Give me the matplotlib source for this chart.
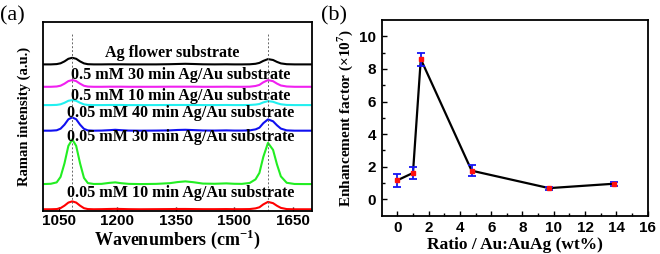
#!/usr/bin/env python
# -*- coding: utf-8 -*-

from matplotlib import pyplot as plt

# ---- panel (a): stacked Raman spectra -------------------------------------
wavenumbers = [1010, 1030, 1045, 1055, 1065, 1075, 1085, 1095, 1105, 1115,
               1125, 1140, 1160, 1180, 1195, 1210, 1230, 1260, 1300, 1335,
               1355, 1375, 1395, 1420, 1450, 1480, 1500, 1520, 1540, 1555,
               1565, 1575, 1587, 1600, 1610, 1620, 1635, 1655, 1680, 1700]

spec_010_05 = [0.1, 0.1, 0.3, 1.3, 3.7, 6.8, 8.0, 6.8, 3.7, 1.2,
               0.3, 0.1, 0.2, 0.4, 0.5, 0.4, 0.2, 0.1, 0.2, 0.3,
               0.4, 0.4, 0.3, 0.2, 0.2, 0.3, 0.2, 0.2, 0.3, 1.0,
               2.1, 5.0, 7.5, 6.2, 3.6, 1.5, 0.3, 0.1, 0.1, 0.1]
spec_030_05 = [0.3, 0.6, 2.0, 7.5, 21.0, 38.5, 45.0, 38.5, 21.0, 6.5,
               1.3, 0.4, 0.5, 1.5, 2.0, 1.2, 0.5, 0.3, 0.5, 1.2,
               2.3, 3.0, 2.2, 0.8, 0.6, 1.0, 0.6, 0.5, 1.4, 5.0,
               11.5, 27.5, 41.5, 34.5, 20.0, 8.0, 1.6, 0.4, 0.3, 0.3]
spec_040_05 = [0.1, 0.1, 0.5, 2.1, 6.1, 11.5, 13.4, 11.5, 6.1, 1.9,
               0.4, 0.1, 0.2, 0.6, 1.0, 0.6, 0.2, 0.1, 0.2, 0.4,
               0.8, 1.0, 0.7, 0.3, 0.2, 0.4, 0.2, 0.2, 0.4, 1.4,
               3.1, 7.6, 11.4, 9.5, 5.5, 2.2, 0.4, 0.1, 0.1, 0.1]
spec_010_5 = [0.0, 0.0, 0.2, 0.8, 2.3, 4.3, 5.0, 4.3, 2.3, 0.7,
              0.15, 0.0, 0.0, 0.1, 0.1, 0.1, 0.0, 0.0, 0.0, 0.1,
              0.1, 0.1, 0.1, 0.0, 0.0, 0.1, 0.0, 0.0, 0.1, 0.5,
              1.1, 2.7, 4.0, 3.3, 1.9, 0.8, 0.15, 0.0, 0.0, 0.0]
spec_030_5 = [0.0, 0.0, 0.3, 1.1, 3.1, 5.7, 6.7, 5.7, 3.1, 1.0,
              0.2, 0.0, 0.0, 0.1, 0.1, 0.1, 0.0, 0.0, 0.0, 0.1,
              0.1, 0.1, 0.1, 0.0, 0.0, 0.1, 0.0, 0.0, 0.1, 0.8,
              1.9, 4.5, 6.7, 5.6, 3.2, 1.3, 0.3, 0.0, 0.0, 0.0]
spec_ag = [0.0, 0.0, 0.3, 1.1, 3.0, 5.6, 6.6, 5.6, 3.0, 1.0,
           0.2, 0.0, 0.0, 0.1, 0.1, 0.1, 0.0, 0.0, 0.0, 0.2,
           0.4, 0.6, 0.4, 0.1, 0.0, 0.1, 0.0, 0.0, 0.1, 0.6,
           1.5, 3.5, 5.3, 4.4, 2.5, 1.0, 0.2, 0.0, 0.0, 0.0]

spectra = [spec_010_05, spec_030_05, spec_040_05, spec_010_5, spec_030_5, spec_ag]
spectra_names = ['0.05 mM 10 min Ag/Au substrate', '0.05 mM 30 min Ag/Au substrate',
                 '0.05 mM 40 min Ag/Au substrate', '0.5 mM 10 min Ag/Au substrate',
                 '0.5 mM 30 min Ag/Au substrate', 'Ag flower substrate']
band_positions = [1085, 1587]

# stacking offsets / label spots (layout only)
offsets = [1.7, 26.7, 80.3, 106.0, 124.3, 146.7]
label_y = [18, 74, 98, 115.3, 136, 158.3]
label_x = [1362, 1362, 1362, 1362, 1362, 1342]
colours = ['#FF0000', '#22EE22', '#1010F0', '#22F0F0', '#F020F0', '#000000']

# ---- panel (b): enhancement factor ----------------------------------------
ratio = [0, 1, 1.5, 4.75, 9.7, 13.85]
ef = [1.17, 1.62, 8.6, 1.76, 0.69, 0.96]
ef_err = [0.4, 0.37, 0.4, 0.35, 0.1, 0.12]

plt.rcParams['mathtext.fontset'] = 'custom'
plt.rcParams['mathtext.rm'] = 'Liberation Serif'
plt.rcParams['mathtext.bf'] = 'Liberation Serif:bold'

serif = {'family': 'Liberation Serif', 'weight': 'bold'}
tick_font = {'family': 'Liberation Sans', 'weight': 'bold', 'size': 11}

fig = plt.figure(figsize=(6.6, 2.54), dpi=100)
ax1 = fig.add_axes([0.0652, 0.169, 0.4076, 0.744])
ax2 = fig.add_axes([0.5783, 0.1508, 0.403, 0.7705])

for spec, off, c in zip(spectra, offsets, colours):
    ax1.plot(wavenumbers, [v + off for v in spec], color=c, lw=1.5)
for name, x, y in zip(spectra_names, label_x, label_y):
    ax1.text(x, y, name, ha='center', va='center', fontsize=11.6, **serif)
ax1.vlines(band_positions, 0, 178, colors='#666666', linestyles=(0, (2, 2)), lw=0.7)

ax1.set_xlim(1010, 1700)
ax1.set_ylim(0, 189)
ax1.set_xticks([1050, 1200, 1350, 1500, 1650])
ax1.set_yticks([])
ax1.tick_params(axis='x', direction='in', length=3, width=1, pad=2)
for lbl in ax1.get_xticklabels():
    lbl.set(**tick_font)
ax1.set_xlabel('Wavenumbers (cm$^{\\mathbf{-1}}$)', fontsize=13, labelpad=0, **serif)
ax1.set_ylabel('Raman intensity (a.u.)', fontsize=10.5, labelpad=9, **serif)
for s in ax1.spines.values():
    s.set_linewidth(1.3)

ax2.plot(ratio, ef, color='black', lw=1.6, zorder=2)
ax2.errorbar(ratio, ef, yerr=ef_err, fmt='none', ecolor='#1515F5',
             elinewidth=1.3, capsize=3, capthick=1.3, zorder=3)
ax2.plot(ratio, ef, 's', color='#FF1010', ms=3.5, zorder=4)

ax2.set_xlim(-1, 16)
ax2.set_ylim(-1, 11)
ax2.set_xticks(range(0, 17, 2))
ax2.set_xticks(range(1, 16, 2), minor=True)
ax2.set_yticks(range(0, 11, 2))
ax2.set_yticks(range(1, 11, 2), minor=True)
ax2.tick_params(which='both', direction='in', width=1)
ax2.tick_params(which='major', length=3.5, pad=4)
ax2.tick_params(which='minor', length=2)
for lbl in ax2.get_xticklabels() + ax2.get_yticklabels():
    lbl.set(**tick_font)
ax2.set_xlabel('Ratio / Au:AuAg (wt%)', fontsize=12.5, labelpad=1, **serif)
ax2.set_ylabel('Enhancement factor (\u00d710$^{\\mathbf{7}}$)', fontsize=11, labelpad=3, **serif)
for s in ax2.spines.values():
    s.set_linewidth(1.3)

fig.text(0.0, 0.975, '(a)', fontsize=16, family='Liberation Serif', va='top')
fig.text(0.487, 0.975, '(b)', fontsize=16, family='Liberation Serif', va='top')

fig.savefig('out.png', dpi=100)
